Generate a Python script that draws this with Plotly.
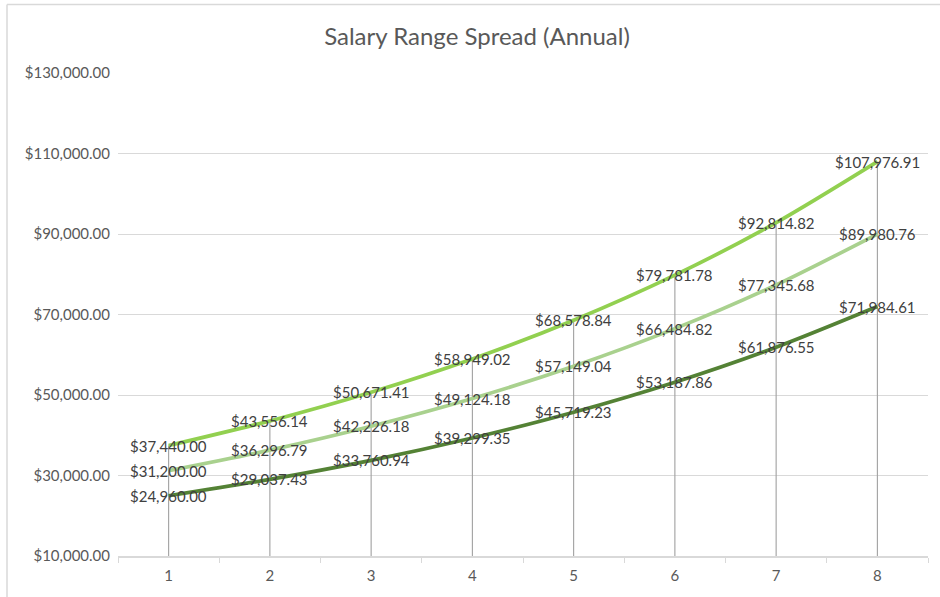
import plotly.graph_objects as go

categories = ["1", "2", "3", "4", "5", "6", "7", "8"]
max_vals = [37440.00, 43556.14, 50671.41, 58949.02, 68578.84, 79781.78, 92814.82, 107976.91]
mid_vals = [31200.00, 36296.79, 42226.18, 49124.18, 57149.04, 66484.82, 77345.68, 89980.76]
min_vals = [24960.00, 29037.43, 33760.94, 39299.35, 45719.23, 53187.86, 61876.55, 71984.61]
y_ticks = [10000, 30000, 50000, 70000, 90000, 110000, 130000]

FONT = "Lato"
W, H = 940, 597
L, R, T, B = 118, 12, 73, 41

fig = go.Figure()

# drop lines
dx, dy = [], []
for c, v in zip(categories, max_vals):
    dx += [c, c, None]
    dy += [y_ticks[0], v, None]
fig.add_trace(go.Scatter(x=dx, y=dy, mode="lines", line=dict(color="#a0a0a0", width=1.1),
                         hoverinfo="skip", showlegend=False))

series = [
    (min_vals, "#548235"),
    (mid_vals, "#A9D18E"),
    (max_vals, "#92D050"),
]
for vals, col in series:
    fig.add_trace(go.Scatter(x=categories, y=vals, mode="lines",
                             line=dict(color=col, width=3.7, shape="spline", smoothing=0.8),
                             showlegend=False))

annotations = []
for vals, _ in series:
    for i, v in enumerate(vals):
        annotations.append(dict(x=i, y=v, xref="x", yref="y", text=f"${v:,.2f}",
                                showarrow=False, font=dict(family=FONT, size=15, color="#404040")))

pw = W - L - R
ph = H - T - B
def px(xp):
    return (xp - L) / pw
def py(yp):
    return (H - B - yp) / ph

shapes = [
    dict(type="line", xref="paper", yref="paper", x0=px(7), x1=px(W), y0=py(4.5), y1=py(4.5),
         line=dict(color="#d9d9d9", width=1.5)),
    dict(type="line", xref="paper", yref="paper", x0=px(7), x1=px(7), y0=py(4.5), y1=py(H),
         line=dict(color="#d9d9d9", width=1.5)),
]

fig.update_layout(
    width=W, height=H,
    margin=dict(l=L, r=R, t=T, b=B),
    paper_bgcolor="white", plot_bgcolor="white",
    title=dict(text="Salary Range Spread (Annual)", x=477 / W, xref="container", xanchor="center",
               y=1 - 37 / H, yref="container", yanchor="middle",
               font=dict(family=FONT, size=24, color="#595959")),
    annotations=annotations,
    shapes=shapes,
    xaxis=dict(type="category", tickson="boundaries", ticks="outside", ticklen=5,
               tickcolor="#d9d9d9", showline=True, linecolor="#d9d9d9", linewidth=1.5,
               showgrid=False, tickfont=dict(family=FONT, size=15, color="#595959"),
               range=[-0.5, 7.5], fixedrange=True, automargin=False, ticklabelstandoff=5),
    yaxis=dict(range=[10000, 130000], tickvals=y_ticks, tickformat="$,.2f",
               showgrid=True, gridcolor="#d9d9d9", gridwidth=1.2, zeroline=False,
               showline=False, ticks="", ticklen=0, automargin=False, ticklabelstandoff=7,
               tickfont=dict(family=FONT, size=15, color="#595959")),
)

fig.write_html("out.html", config={"displayModeBar": False},
               post_script="document.body.style.margin='0';")
